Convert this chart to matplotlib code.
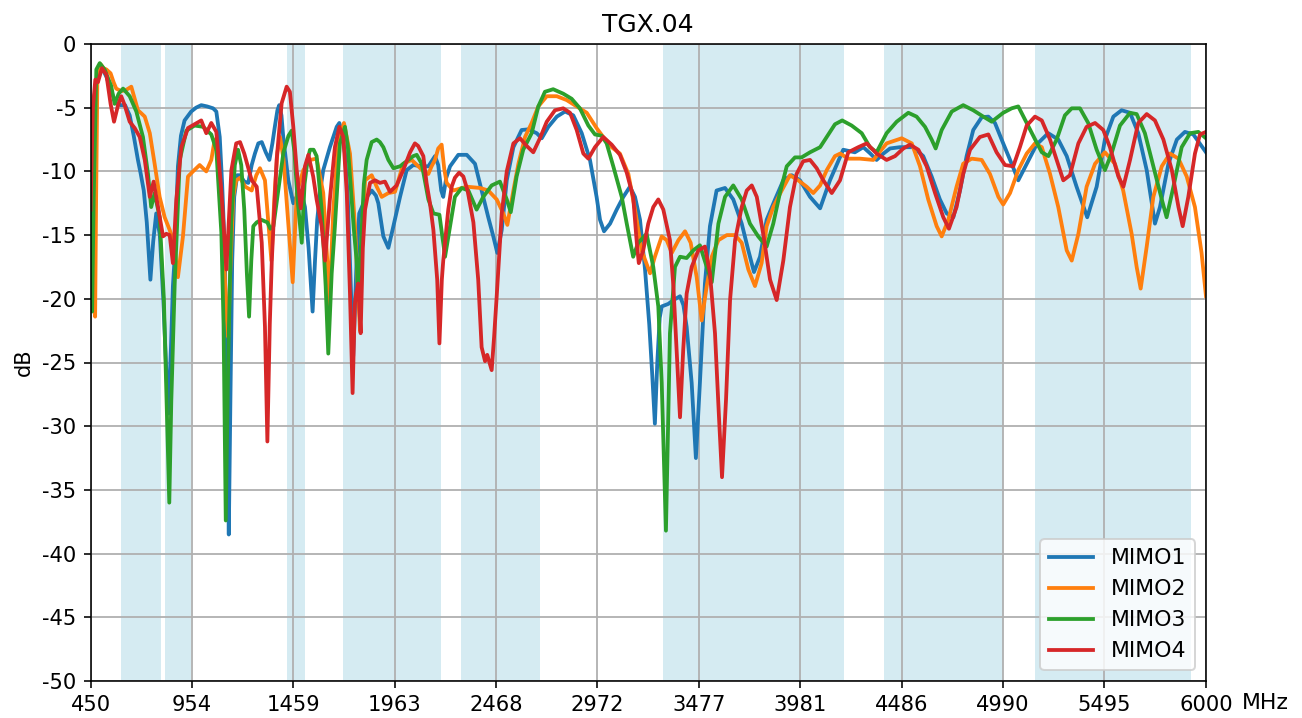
# TGX.04 return loss of the four MIMO ports

import matplotlib
matplotlib.use("Agg")
import matplotlib.pyplot as plt

plt.rcParams["axes.unicode_minus"] = False

#%% data

mimo1_f = [450, 458, 470, 490, 508, 530, 555, 575, 600, 622, 645, 665, 686, 700, 715, 730, 748, 762, 777, 795,
           812, 828, 838, 850, 860, 869, 885, 900, 918, 951, 975, 1001, 1030, 1060, 1076, 1093, 1105, 1118, 1130, 1138,
           1146, 1155, 1165, 1180, 1194, 1215, 1235, 1252, 1268, 1285, 1302, 1322, 1340, 1355, 1368, 1380, 1389, 1400, 1409, 1434,
           1459, 1475, 1489, 1505, 1517, 1535, 1555, 1567, 1578, 1593, 1608, 1641, 1660, 1675, 1688, 1700, 1716, 1730, 1741, 1757,
           1774, 1787, 1816, 1849, 1870, 1882, 1907, 1932, 1957, 1990, 2023, 2056, 2098, 2131, 2164, 2180, 2195, 2205, 2220, 2239,
           2280, 2322, 2363, 2396, 2429, 2454, 2474, 2496, 2521, 2554, 2595, 2628, 2670, 2695, 2728, 2770, 2811, 2852, 2894, 2935,
           2968, 2985, 3005, 3035, 3068, 3101, 3134, 3159, 3184, 3209, 3230, 3245, 3258, 3270, 3282, 3292, 3325, 3350, 3383, 3400,
           3416, 3441, 3462, 3474, 3482, 3507, 3532, 3565, 3607, 3648, 3690, 3723, 3751, 3781, 3814, 3856, 3897, 3939, 3980, 4030,
           4080, 4129, 4195, 4253, 4295, 4330, 4361, 4395, 4428, 4477, 4544, 4593, 4635, 4676, 4710, 4743, 4776, 4809, 4842, 4884,
           4917, 4950, 4991, 5033, 5066, 5108, 5157, 5215, 5265, 5307, 5356, 5409, 5456, 5497, 5539, 5580, 5622, 5663, 5705, 5746,
           5771, 5813, 5855, 5895, 5937, 6000]
mimo1_db = [-15, -9, -4, -2.0, -1.9, -2.6, -3.8, -4.6, -4.8, -4.8, -5.6, -7.2, -9.1, -10.2, -11.5, -14, -18.5, -15.5, -13.3, -15,
            -20, -26, -29, -24, -19, -16.7, -9.6, -7.2, -6.0, -5.3, -5.0, -4.8, -4.9, -5.05, -5.3, -7.3, -11, -16.2, -28, -38.5,
            -28, -17, -12, -10.3, -10.3, -10.8, -10.9, -9.5, -8.6, -7.8, -7.7, -8.5, -9.1, -7.8, -6.4, -5.2, -4.8, -5.6, -7.3, -10.7,
            -12.5, -12.0, -11.6, -12, -12.8, -16, -21, -17, -13.8, -11.5, -9.9, -8.1, -7.2, -6.5, -6.2, -6.8, -8.6, -12, -17, -24.5,
            -17, -13.3, -12.2, -11.5, -11.9, -12.5, -15.1, -16, -14.3, -12, -9.9, -9.5, -9.6, -9.6, -8.8, -9.5, -11.5, -12, -10.5, -9.6,
            -8.7, -8.7, -9.4, -11.5, -13.6, -15.1, -16.4, -14.6, -10.7, -8.1, -6.75, -6.7, -7.0, -7.4, -6.5, -5.7, -5.3, -5.6, -7.0, -9.1,
            -12, -13.8, -14.7, -14.1, -13, -12, -11.2, -12, -13.8, -17.7, -22, -26, -29.8, -25, -21.5, -20.6, -20.4, -20.1, -19.8, -20.5,
            -22.2, -26.6, -32.5, -29, -26.6, -18.8, -14.3, -11.5, -11.3, -12.2, -14.1, -16.2, -17.9, -16.7, -13.8, -12.2, -10.7, -10.3, -10.7, -12,
            -12.9, -10.7, -8.3, -8.5, -8.1, -8.6, -9.1, -8.6, -8.2, -8.1, -8.1, -8.8, -10.4, -12.2, -13.3, -13.6, -11.5, -8.8, -6.75, -5.75,
            -5.7, -6.2, -7.8, -9.4, -10.7, -9.4, -7.9, -7.0, -7.5, -8.8, -11.2, -13.6, -11.2, -7.5, -5.7, -5.2, -5.4, -7.0, -9.9, -14.1,
            -12.8, -9.4, -7.5, -6.9, -7.1, -8.5]

mimo2_f = [450, 460, 466, 473, 478, 484, 501, 515, 529, 550, 565, 578, 603, 628, 653, 670, 686, 700, 720, 745,
           769, 794, 819, 844, 865, 885, 910, 935, 960, 993, 1026, 1051, 1068, 1080, 1093, 1110, 1125, 1135, 1145, 1160,
           1175, 1194, 1220, 1252, 1275, 1293, 1318, 1335, 1350, 1365, 1380, 1393, 1410, 1434, 1456, 1476, 1509, 1542, 1575, 1608,
           1628, 1638, 1658, 1683, 1711, 1741, 1766, 1780, 1791, 1803, 1816, 1849, 1874, 1899, 1932, 1965, 2006, 2048, 2081, 2114,
           2131, 2147, 2164, 2180, 2197, 2210, 2222, 2255, 2322, 2388, 2429, 2471, 2504, 2524, 2554, 2579, 2612, 2645, 2678, 2720,
           2770, 2819, 2869, 2919, 2968, 3001, 3043, 3084, 3126, 3159, 3192, 3234, 3258, 3292, 3317, 3342, 3375, 3408, 3436, 3466,
           3491, 3516, 3541, 3574, 3616, 3657, 3690, 3723, 3756, 3789, 3814, 3847, 3889, 3930, 3971, 4013, 4046, 4080, 4113, 4154,
           4180, 4220, 4278, 4345, 4411, 4486, 4536, 4577, 4618, 4660, 4685, 4718, 4759, 4792, 4834, 4884, 4925, 4967, 4991, 5025,
           5066, 5108, 5149, 5183, 5224, 5265, 5307, 5332, 5365, 5406, 5448, 5497, 5547, 5588, 5630, 5655, 5675, 5705, 5738, 5780,
           5821, 5863, 5904, 5945, 5978, 6000]
mimo2_db = [-5.5, -12, -19, -21.4, -12, -3.1, -1.6, -1.9, -2.0, -2.3, -3.0, -3.5, -3.7, -3.6, -3.35, -4.3, -5.2, -5.4, -5.7, -7.0,
            -9.4, -12, -13.6, -14.6, -15.6, -18.3, -15.1, -10.4, -10, -9.5, -10, -9.1, -7.5, -8.5, -10.9, -15, -21, -23, -18, -12,
            -10.7, -10.5, -11.2, -11.5, -10.3, -9.75, -10.7, -14, -17, -12, -8.5, -7.3, -9, -14.1, -18.7, -11.7, -9.9, -9.1, -9.0, -11.7,
            -17, -20.6, -13, -7.8, -6.2, -8.6, -14.3, -19, -22.5, -15, -10.7, -10.3, -11.2, -12, -11.7, -11.6, -9.4, -9.1, -9.6, -10.1,
            -10.2, -9.6, -9.1, -8.2, -7.9, -9.8, -10.9, -11.5, -11.2, -11.3, -11.5, -12.2, -13.3, -14.2, -11.5, -9.4, -7.3, -6.2, -4.9, -4.1,
            -4.1, -4.4, -4.9, -5.4, -6.6, -7.3, -8.1, -8.6, -10.2, -13, -16.2, -18, -16.7, -15.1, -15.4, -16.4, -15.4, -14.7, -15.6, -18.3,
            -21.7, -19, -16.7, -15.4, -15, -15, -15.6, -17.7, -19, -17.2, -14.3, -12.8, -11.5, -10.3, -10.7, -11.2, -11.7, -11.1, -9.9, -8.8,
            -8.6, -9.0, -9.0, -9.1, -7.8, -7.4, -7.8, -9.6, -12.2, -14.3, -15.1, -13.8, -11.2, -9.4, -9.0, -9.1, -10.2, -12, -12.6, -11.7,
            -9.9, -8.6, -7.8, -8.1, -10.2, -12.8, -16.2, -17, -14.9, -11.2, -9.4, -8.5, -9.4, -11.5, -14.9, -17.5, -19.2, -15.9, -12, -9.6,
            -8.6, -9.0, -10.4, -12.8, -16.4, -19.8]

mimo3_f = [450, 458, 466, 479, 496, 520, 553, 570, 590, 612, 645, 678, 711, 736, 752, 769, 794, 815, 832, 842,
           852, 869, 894, 927, 968, 1010, 1051, 1076, 1101, 1112, 1123, 1135, 1150, 1168, 1184, 1200, 1215, 1228, 1239, 1250,
           1260, 1277, 1300, 1330, 1345, 1360, 1380, 1410, 1435, 1451, 1465, 1480, 1501, 1515, 1530, 1542, 1560, 1575, 1600, 1620,
           1633, 1650, 1666, 1691, 1716, 1730, 1741, 1760, 1774, 1782, 1795, 1810, 1824, 1849, 1874, 1890, 1907, 1932, 1957, 1990,
           2023, 2056, 2073, 2098, 2131, 2156, 2186, 2214, 2239, 2263, 2297, 2330, 2371, 2404, 2446, 2487, 2521, 2541, 2570, 2603,
           2645, 2678, 2711, 2752, 2802, 2844, 2885, 2927, 2960, 2993, 3018, 3051, 3093, 3118, 3150, 3175, 3217, 3250, 3275, 3292,
           3313, 3333, 3358, 3383, 3416, 3449, 3482, 3516, 3541, 3574, 3607, 3648, 3690, 3731, 3772, 3814, 3847, 3880, 3914, 3955,
           3988, 4030, 4080, 4113, 4154, 4190, 4237, 4287, 4328, 4361, 4411, 4461, 4519, 4560, 4602, 4635, 4655, 4685, 4735, 4792,
           4842, 4892, 4934, 4991, 5033, 5066, 5108, 5150, 5183, 5216, 5257, 5298, 5332, 5373, 5414, 5456, 5497, 5530, 5572, 5622,
           5655, 5696, 5738, 5780, 5804, 5838, 5879, 5921, 5962, 6000]
mimo3_db = [-13, -21, -12, -2.0, -1.5, -2.0, -3.3, -4.7, -3.9, -3.5, -4.1, -5.3, -7.3, -10.2, -12.8, -11.7, -13.6, -20, -30, -36,
            -28, -18.8, -9.1, -6.8, -6.4, -6.5, -7.1, -8.3, -14.8, -22, -37.4, -25, -14, -9.5, -8.3, -9.5, -13, -18, -21.4, -17,
            -14.3, -14, -13.8, -14, -14.5, -14.3, -12, -8.5, -7.2, -6.8, -8.5, -12.2, -15.6, -11, -9.1, -8.3, -8.3, -8.8, -13, -19,
            -24.3, -18, -14.3, -7.8, -6.5, -8, -10.4, -14.5, -17, -19.5, -16, -11, -9.1, -7.7, -7.5, -7.7, -8.1, -9.1, -9.75, -9.6,
            -9.2, -8.8, -8.7, -9.4, -12.2, -13.3, -13.4, -16.7, -14.3, -12, -11.3, -11.5, -13, -12, -11.1, -10.8, -12.2, -13.2, -10.4, -8.3,
            -7.0, -4.9, -3.75, -3.55, -3.9, -4.3, -5.05, -6.4, -7.1, -7.2, -7.8, -9.6, -12, -14.1, -16.7, -15.6, -14.9, -17.5, -20.6, -26.6,
            -38.2, -22.7, -17.5, -16.7, -16.8, -16.2, -15.8, -17.5, -18.7, -14.1, -12, -11.1, -12.2, -14.1, -15.1, -15.9, -14.1, -11.7, -9.6, -8.9,
            -8.9, -8.5, -8.1, -7.3, -6.3, -6.0, -6.4, -7.0, -8.1, -8.5, -7.0, -6.1, -5.4, -5.7, -6.5, -7.5, -8.2, -6.75, -5.3, -4.8,
            -5.2, -5.7, -6.1, -5.4, -5.05, -4.9, -6.2, -7.5, -8.5, -8.8, -7.5, -5.6, -5.05, -5.05, -6.2, -8.3, -9.9, -8.6, -6.4, -5.4,
            -5.5, -7.0, -9.6, -12.2, -13.6, -11.2, -8.1, -7.0, -6.9, -7.4]

mimo4_f = [450, 462, 474, 487, 507, 529, 550, 567, 587, 603, 620, 645, 670, 695, 720, 745, 764, 786, 811, 827,
           844, 860, 877, 902, 935, 968, 1001, 1026, 1051, 1076, 1101, 1126, 1151, 1175, 1194, 1215, 1252, 1277, 1302, 1318,
           1330, 1342, 1352, 1376, 1401, 1426, 1442, 1459, 1476, 1496, 1517, 1534, 1558, 1575, 1600, 1617, 1641, 1666, 1688, 1708,
           1725, 1741, 1754, 1765, 1771, 1782, 1794, 1805, 1816, 1841, 1866, 1890, 1915, 1940, 1973, 2006, 2040, 2064, 2080, 2106,
           2122, 2139, 2156, 2175, 2186, 2198, 2205, 2230, 2247, 2263, 2284, 2305, 2326, 2355, 2379, 2396, 2413, 2424, 2446, 2458,
           2471, 2496, 2521, 2554, 2587, 2620, 2653, 2686, 2720, 2761, 2802, 2836, 2869, 2902, 2927, 2960, 3001, 3043, 3084, 3118,
           3150, 3168, 3178, 3200, 3225, 3250, 3275, 3300, 3333, 3350, 3366, 3383, 3399, 3416, 3441, 3474, 3507, 3532, 3557, 3577,
           3592, 3612, 3632, 3657, 3690, 3715, 3740, 3765, 3797, 3831, 3864, 3897, 3930, 3963, 3996, 4030, 4063, 4096, 4138, 4179,
           4220, 4270, 4312, 4361, 4411, 4453, 4494, 4527, 4569, 4610, 4652, 4693, 4721, 4759, 4792, 4826, 4875, 4917, 4958, 5000,
           5041, 5074, 5108, 5149, 5183, 5224, 5257, 5290, 5323, 5365, 5406, 5448, 5489, 5522, 5564, 5589, 5622, 5663, 5705, 5746,
           5788, 5830, 5863, 5884, 5912, 5945, 5970, 6000]
mimo4_db = [-13, -5, -2.8, -3.0, -1.9, -2.4, -4.7, -6.1, -4.8, -4.1, -4.8, -6.1, -6.6, -7.3, -9.1, -12, -10.8, -12.8, -15.1, -14.9,
            -15, -17.2, -12.2, -8.1, -6.6, -6.3, -6.0, -7.0, -6.2, -6.9, -11.5, -17.7, -9.9, -7.8, -7.7, -8.6, -10.7, -11.2, -15.6, -22.2,
            -31.2, -22, -17, -9.1, -4.65, -3.35, -3.75, -6.5, -9.9, -12.9, -9.6, -8.7, -10.4, -12.2, -14.3, -17, -12.2, -8.1, -6.5, -7.3,
            -11.7, -19.6, -27.4, -20.5, -19.6, -18.8, -22.7, -16, -13, -10.9, -10.7, -10.9, -10.8, -11.6, -11.1, -9.9, -8.5, -7.8, -8.0, -8.8,
            -10.9, -12.5, -14.6, -18.5, -23.5, -18.5, -17, -13, -11.2, -10.5, -10.1, -10.4, -11.5, -14, -18.5, -23.8, -24.9, -24.4, -25.6, -23,
            -19.8, -13.3, -10, -7.8, -7.4, -8.0, -8.5, -7.4, -6.1, -5.2, -5.05, -5.4, -6.75, -8.6, -9.0, -8.1, -7.3, -7.9, -8.7, -10.1,
            -12, -15.6, -17.2, -16.2, -14.1, -12.8, -12.2, -13, -15.4, -19, -24, -29.3, -24, -19.6, -17.5, -16.2, -15.9, -18, -22.7, -29.3,
            -34, -27.9, -20.1, -15.4, -12.8, -11.5, -11.1, -12, -14.9, -18.5, -20.1, -17, -12.8, -10.2, -9.2, -9.1, -9.75, -10.7, -11.7, -10.7,
            -8.5, -8.1, -7.8, -8.6, -9.1, -8.8, -8.2, -7.9, -8.3, -9.6, -11.7, -13.6, -14.5, -12.8, -10.2, -8.3, -7.3, -7.1, -8.5, -9.5,
            -9.6, -8.1, -6.4, -5.7, -6.0, -7.5, -9.1, -10.7, -10.3, -7.8, -6.5, -6.2, -6.75, -8.1, -10.4, -11.2, -9.1, -6.2, -5.5, -6.0,
            -7.5, -9.9, -12.8, -14.3, -12, -8.6, -7.1, -6.9]

# frequency bands highlighted in the background (MHz)
band_lo = [603, 822, 1427, 1706, 2295, 3300, 4400, 5150]
band_hi = [801, 950, 1515, 2192, 2685, 4197, 4992, 5926]

xticks = [450, 954, 1459, 1963, 2468, 2972, 3477, 3981, 4486, 4990, 5495, 6000]
yticks = [0, -5, -10, -15, -20, -25, -30, -35, -40, -45, -50]

#%% plot

fig = plt.figure(figsize=(1302 / 144, 718 / 144), dpi=144)
ax = fig.add_axes([90.5 / 1302, 37 / 718, 1115.5 / 1302, 637 / 718])

for lo, hi in zip(band_lo, band_hi):
    ax.axvspan(lo, hi, color="lightblue", alpha=0.5, linewidth=0)

lw = 1.9
ax.plot(mimo1_f, mimo1_db, label="MIMO1", color="tab:blue", linewidth=lw)
ax.plot(mimo2_f, mimo2_db, label="MIMO2", color="tab:orange", linewidth=lw)
ax.plot(mimo3_f, mimo3_db, label="MIMO3", color="tab:green", linewidth=lw)
ax.plot(mimo4_f, mimo4_db, label="MIMO4", color="tab:red", linewidth=lw)

ax.set_xlim(450, 6000)
ax.set_ylim(-50, 0)
ax.set_xticks(xticks)
ax.set_xticklabels([str(t) for t in xticks])
ax.set_yticks(yticks)
ax.tick_params(labelsize=10.5)
ax.grid(True, color="#b0b0b0", linewidth=0.9)
ax.set_ylabel("dB", fontsize=10.5)
ax.set_title("TGX.04", fontsize=12.5)
ax.text(1.032, -0.019, "MHz", transform=ax.transAxes, ha="left", va="top", fontsize=11)
ax.legend(loc="lower right", fontsize=11)

fig.savefig("out.png", dpi=144)
